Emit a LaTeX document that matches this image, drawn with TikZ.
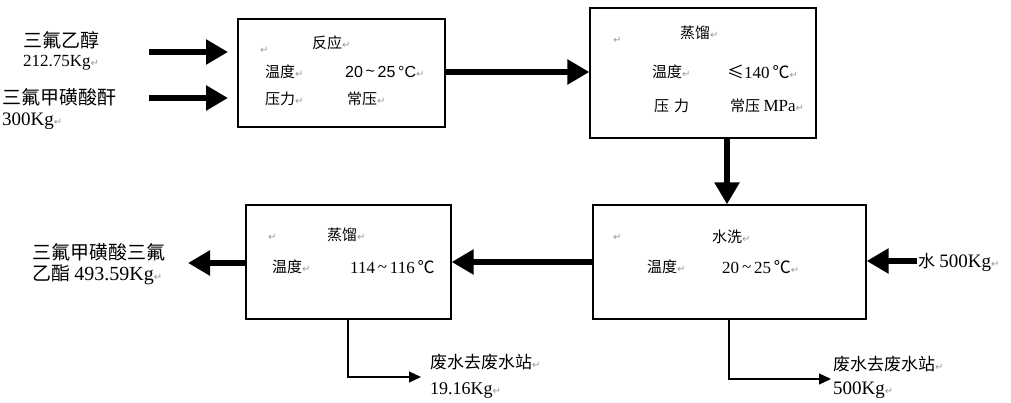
\documentclass[tikz,border=0pt]{standalone}
\usepackage{fontspec}
\setmainfont{Liberation Serif}
\newfontfamily\cjk{Noto Sans CJK SC}
\newfontfamily\symf{DejaVu Sans}
\usetikzlibrary{arrows.meta}
\newcommand\pmk{{\color{black!40}\symf\fontsize{10}{10}\selectfont ↵}}
\tikzset{
  box/.style={draw, line width=1.3pt, inner sep=0pt},
  big/.style={line width=5.5pt, -{Triangle[length=22pt,width=24pt]}},
  outlet/.style={line width=1.2pt, -{Triangle[length=12pt,width=11pt]}},
  lbl/.style={anchor=west, inner sep=0pt, font=\fontsize{17}{17}\selectfont},
  blbl/.style={anchor=west, inner sep=0pt, font=\fontsize{15}{15}\selectfont},
}
\begin{document}
\begin{tikzpicture}[x=1pt,y=-1pt]
\useasboundingbox (0,0) rectangle (1011,403);
% boxes
\node[box, minimum width=207pt, minimum height=108pt] (b1) at (341.5,73) {};
\node[box, minimum width=226pt, minimum height=130pt] (b2) at (703,73) {};
\node[box, minimum width=273pt, minimum height=114pt] (b3) at (729.5,262) {};
\node[box, minimum width=205pt, minimum height=114pt] (b4) at (348.5,262) {};
% box 1 text
\node[blbl] (t1a) at (260,50) {\pmk};
\node[blbl] (t1b) at (312,43) {\cjk 反应\pmk};
\node[blbl] (t1c) at (265,72) {\cjk 温度\pmk};
\node[blbl] (t1d) at (345,72) {\fontspec{Liberation Sans}\fontsize{16}{16}\selectfont 20\,\raisebox{0.1ex}{\textasciitilde}\,25\,°C\pmk};
\node[blbl] (t1e) at (265,99) {\cjk 压力\pmk};
\node[blbl] (t1f) at (347,99) {\cjk 常压\pmk};
% box 2 text
\node[blbl] (t2a) at (613,40) {\pmk};
\node[blbl] (t2b) at (680,33) {\cjk 蒸馏\pmk};
\node[blbl] (t2c) at (652,72) {\cjk 温度\pmk};
\node[blbl] (t2d) at (727,72) {\fontsize{17}{17}\selectfont{\cjk ≤}140\,{\cjk ℃}\pmk};
\node[blbl] (t2e) at (654,106) {\cjk 压\,\,力};
\node[blbl] (t2f) at (730,106) {\cjk 常压\ \fontsize{17}{17}\rmfamily\selectfont MPa\pmk};
% box 3 text
\node[blbl] (t3a) at (613,237) {\pmk};
\node[blbl] (t3b) at (712,237) {\cjk 水洗\pmk};
\node[blbl] (t3c) at (647,267) {\cjk 温度\pmk};
\node[blbl] (t3d) at (722,267) {\fontsize{17}{17}\selectfont 20\,\raisebox{0.1ex}{\textasciitilde}\,25\,{\cjk ℃}\pmk};
% box 4 text
\node[blbl] (t4a) at (268,237) {\pmk};
\node[blbl] (t4b) at (327,235) {\cjk 蒸馏\pmk};
\node[blbl] (t4c) at (272,267) {\cjk 温度\pmk};
\node[blbl] (t4d) at (350,267) {\fontsize{17}{17}\selectfont 114\,\raisebox{0.1ex}{\textasciitilde}\,116\,{\cjk ℃}};
% outside labels
\node[lbl] (l1a) at (23,40) {\cjk\fontsize{19}{19}\selectfont 三氟乙醇};
\node[lbl] (l1b) at (23,63) {212.75Kg\pmk};
\node[lbl] (l2a) at (2,97) {\cjk\fontsize{19}{19}\selectfont 三氟甲磺酸酐};
\node[lbl] (l2b) at (2,121) {\fontsize{19}{19}\selectfont 300Kg\pmk};
\node[lbl] (l3a) at (32,252) {\cjk\fontsize{19}{19}\selectfont 三氟甲磺酸三氟};
\node[lbl] (l3b) at (32,275) {{\cjk\fontsize{19}{19}\selectfont 乙酯} {\fontsize{20}{20}\selectfont 493.59Kg}\pmk};
\node[lbl] (l4) at (918,262) {{\cjk\fontsize{17}{17}\selectfont 水} {\fontsize{19}{19}\selectfont 500Kg}\pmk};
\node[lbl] (l5a) at (430,362) {\cjk\fontsize{17}{17}\selectfont 废水去废水站\pmk};
\node[lbl] (l5b) at (430,390) {\fontsize{18}{18}\selectfont 19.16Kg\pmk};
\node[lbl] (l6a) at (833,364) {\cjk\fontsize{17}{17}\selectfont 废水去废水站\pmk};
\node[lbl] (l6b) at (833,390) {\fontsize{19}{19}\selectfont 500Kg\pmk};
% coordinates
\coordinate (i1s) at (149,52);
\coordinate (i1e) at (228,52);
\coordinate (i2s) at (149,98);
\coordinate (i2e) at (228,98);
\coordinate (vx) at (727,0);
\coordinate (pe) at (188,263);
\coordinate (ws) at (917,261);
\coordinate (o1x) at (348,0);
\coordinate (o1e) at (421,377);
\coordinate (o2x) at (729,0);
\coordinate (o2e) at (831,379);
% arrows
\draw[big] (i1s) -- (i1e);
\draw[big] (i2s) -- (i2e);
\draw[big] (b1.east |- 0,72) -- (b2.west |- 0,72);
\draw[big] (b2.south -| vx) -- (b3.north -| vx);
\draw[big] (b3.west) -- (b4.east);
\draw[big] (b4.west |- pe) -- (pe);
\draw[big] (ws) -- (b3.east |- ws);
\draw[outlet] (b4.south -| o1x) |- (o1e);
\draw[outlet] (b3.south -| o2x) |- (o2e);
\end{tikzpicture}
\end{document}
